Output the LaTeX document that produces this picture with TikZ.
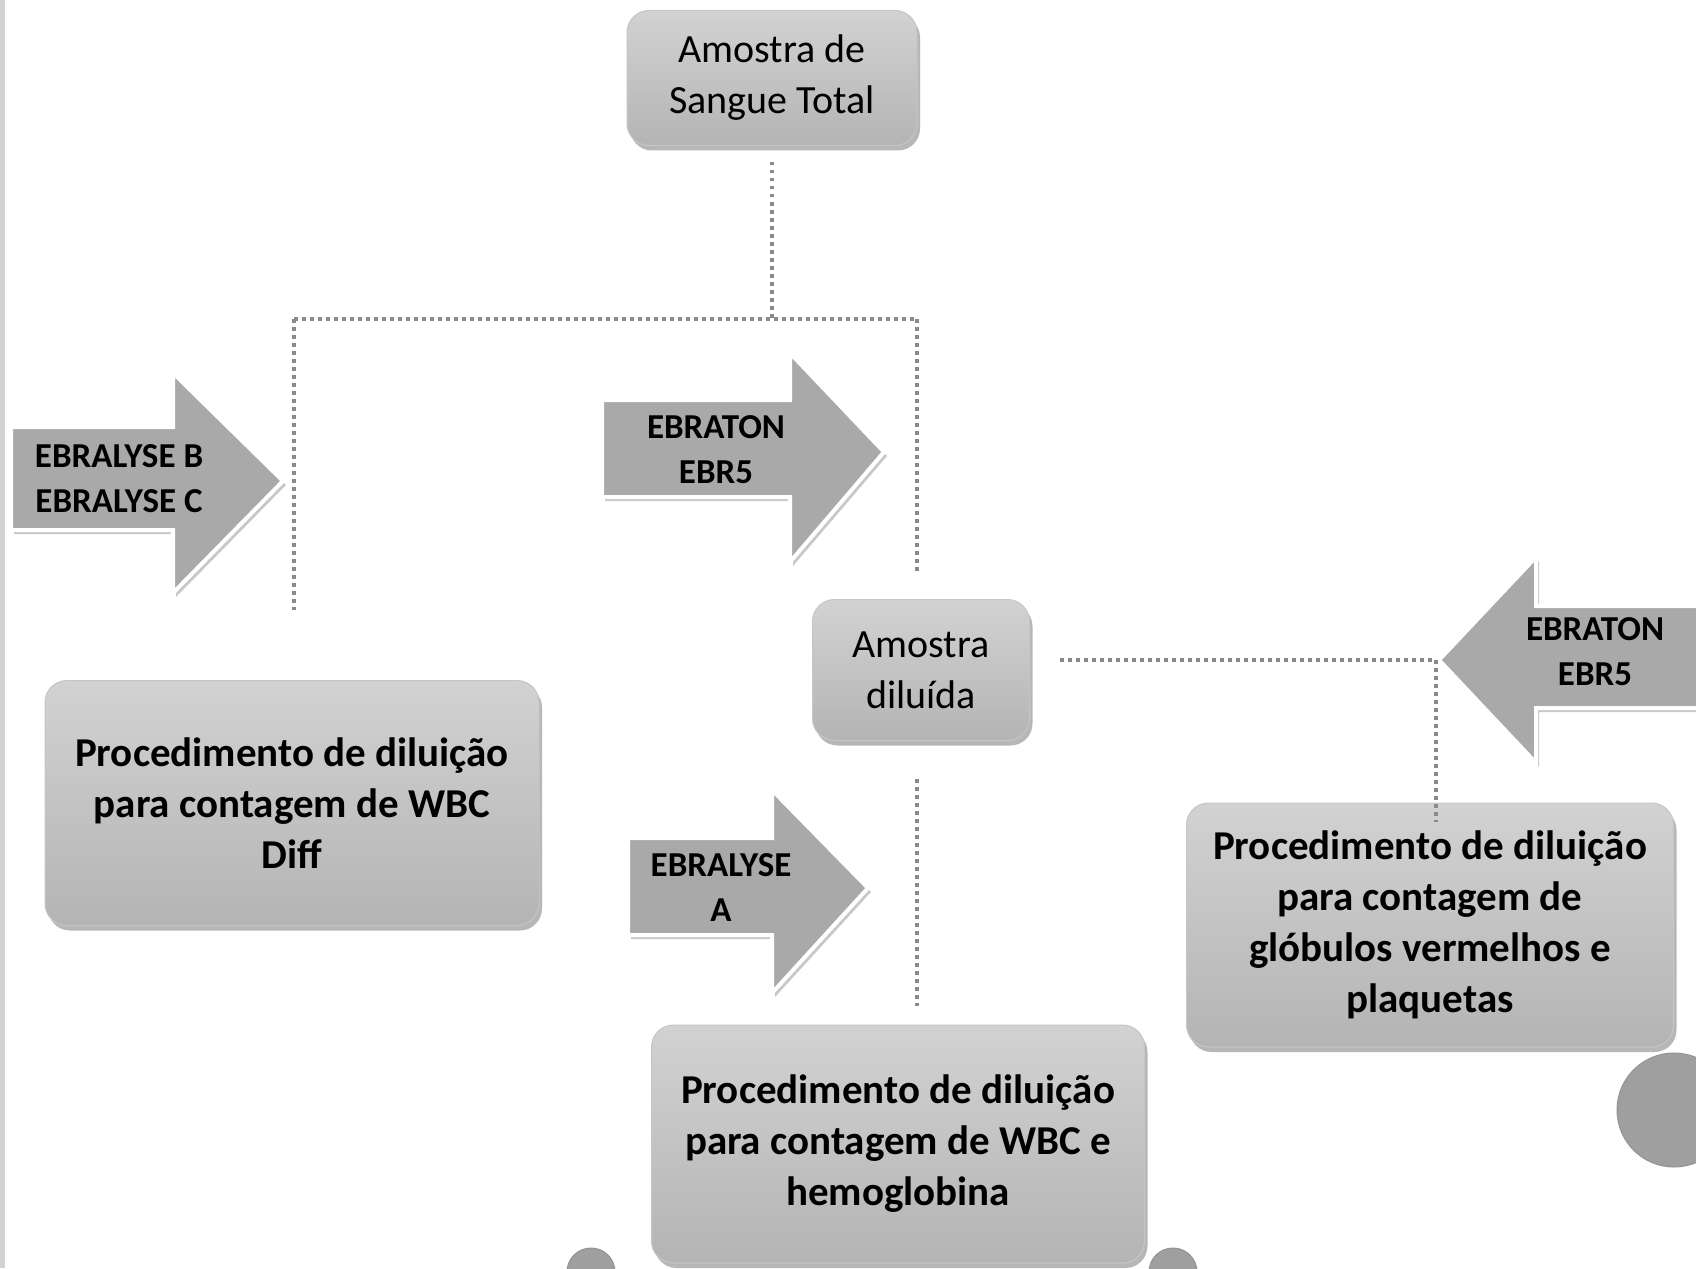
\documentclass[tikz,border=0pt]{standalone}
\usepackage{fontspec}
\setmainfont{Carlito}
\usetikzlibrary{shadows}
\definecolor{boxtop}{HTML}{D2D2D2}
\definecolor{boxbot}{HTML}{B4B4B4}
\definecolor{arrfill}{HTML}{A9A9A9}
\definecolor{dotcol}{HTML}{8A8A8A}
\tikzset{
  pbox/.style={rectangle, rounded corners=22pt, top color=boxtop, bottom color=boxbot,
    draw=gray!45, line width=1pt, align=center, inner sep=0pt,
    drop shadow={shadow xshift=3pt, shadow yshift=-5pt, fill=gray!70, opacity=0.8}},
  bigtxt/.style={font=\fontsize{40}{51}\selectfont},
  boldtxt/.style={font=\bfseries\fontsize{41}{51}\selectfont},
  arrtxt/.style={font=\bfseries\fontsize{35}{45}\selectfont, align=center, inner sep=0pt},
  arrshape/.style={fill=arrfill, draw=white, line width=4pt, line join=miter,
    drop shadow={shadow xshift=3pt, shadow yshift=-4pt, fill=gray!60, opacity=0.7}},
  dotline/.style={draw=dotcol, line width=3.5pt, dash pattern=on 3.5pt off 4.5pt},
  ball/.style={fill=gray!75, draw=gray!85, line width=1pt}
}
\begin{document}
\begin{tikzpicture}[x=1pt, y=-1pt]
\useasboundingbox (0,0) rectangle (1696,1268);
\clip (0,0) rectangle (1696,1268);
\fill[white] (0,0) rectangle (1696,1268);
\fill[gray!35] (0,0) rectangle (5,1268);

% decorative circles
\draw[ball] (1674,1110) circle (57);
\draw[ball] (591,1272) circle (24);
\draw[ball] (1173,1272) circle (24);

% arrows
\path[arrshape] (11,427) -- (173,427) -- (173,373) -- (283,481) -- (173,593) -- (173,530) -- (11,530) -- cycle;
\node[arrtxt] (a1) at (119,479) {EBRALYSE B\\EBRALYSE C};

\path[arrshape] (602,400) -- (790,400) -- (790,353) -- (884,452) -- (790,562) -- (790,497) -- (602,497) -- cycle;
\node[arrtxt] (a2) at (716,450) {EBRATON\\EBR5};

\path[arrshape] (628,838) -- (772,838) -- (772,790) -- (868,888) -- (772,993) -- (772,935) -- (628,935) -- cycle;
\node[arrtxt] (a3) at (721,888) {EBRALYSE\\A};

\path[arrshape] (1710,606) -- (1536,606) -- (1536,557) -- (1439,660) -- (1536,763) -- (1536,708) -- (1710,708) -- cycle;
\node[arrtxt] (a4) at (1595,652) {EBRATON\\EBR5};

% boxes
\node[pbox, bigtxt, minimum width=290pt, minimum height=135pt] (top) at (772,78) {Amostra de\\Sangue Total};
\node[pbox, bigtxt, minimum width=217pt, minimum height=141pt] (dil) at (921,670) {Amostra\\diluída};
\node[pbox, boldtxt, minimum width=494pt, minimum height=245pt] (diff) at (292,803) {Procedimento de diluição\\para contagem de WBC\\Diff};
\node[pbox, boldtxt, minimum width=487pt, minimum height=244pt] (glob) at (1430,925) {Procedimento de diluição\\para contagem de\\glóbulos vermelhos e\\plaquetas};
\node[pbox, boldtxt, minimum width=493pt, minimum height=238pt] (hemo) at (898,1144) {Procedimento de diluição\\para contagem de WBC e\\hemoglobina};

% connectors
\coordinate (j1) at (772,319);
\coordinate (jl) at (294,319);
\coordinate (jr) at (917,319);
\coordinate (jg) at (1436,660);
\draw[dotline, shorten <=16pt] (top.south) -- (j1);
\draw[dotline] (jl) -- (jr);
\draw[dotline, shorten >=70pt] (jl) -- (jl |- diff.north);
\draw[dotline, shorten >=27pt] (jr) -- (jr |- dil.north);
\draw[dotline, shorten <=38pt, shorten >=19pt] (dil.south -| jr) -- (hemo.north -| jr);
\draw[dotline, shorten <=30pt] (jg -| dil.east) -- (jg);
\draw[dotline, shorten >=-19pt] (jg) -- (jg |- glob.north);
\end{tikzpicture}
\end{document}
